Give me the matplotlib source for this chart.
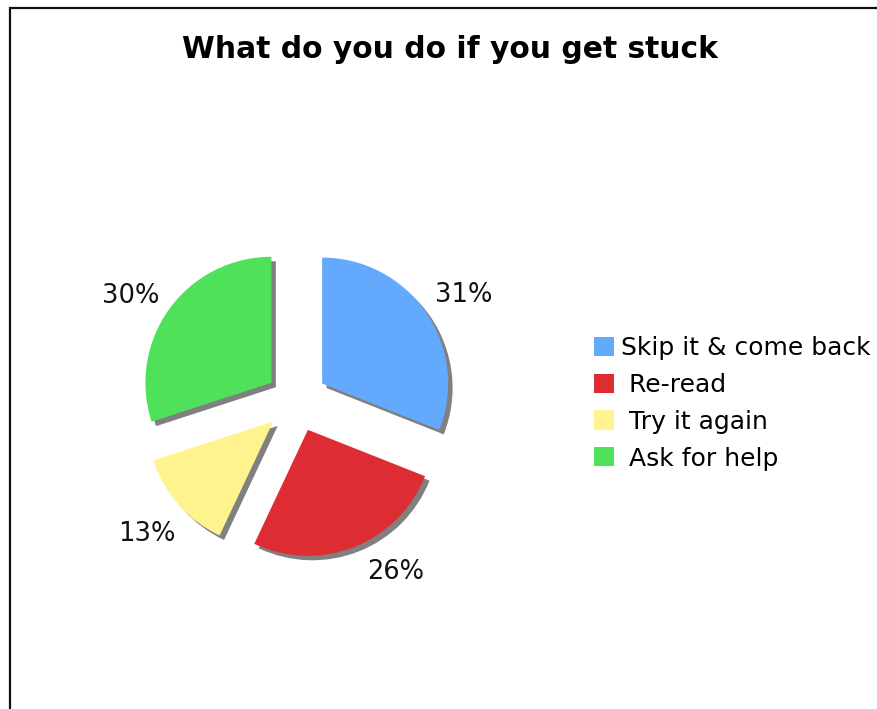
import numpy as np
import matplotlib
matplotlib.use('Agg')
import matplotlib.pyplot as plt
import matplotlib.patches as mpatches
import matplotlib.patheffects as pe

# survey answers
labels = ['Skip it & come back', ' Re-read', ' Try it again', ' Ask for help']
sizes = [31, 26, 13, 30]
colors = ['#63a9fd', '#dd2c32', '#fef38c', '#4fe15a']
# where the percent labels sit (angle in degrees, distance in radii)
label_angle = [32.5, -60.0, -138.3, 147.6]
label_dist = [1.57, 1.57, 1.59, 1.56]

fig = plt.figure(figsize=(8.77, 7.09), dpi=100)
fig.patch.set_facecolor('white')

# frame round the chart (only left and top edges visible)
fig.patches.append(mpatches.Rectangle((10 / 877, -0.1), 1.2, 1 - 8 / 709 + 0.1,
                                      transform=fig.transFigure, fill=False,
                                      edgecolor='#111111', linewidth=1.6))

fig.text(450 / 877, 1 - 49 / 709, 'What do you do if you get stuck',
         ha='center', va='center', fontsize=21.4, fontweight='bold')

ax = fig.add_axes([96.5 / 877, 108 / 709, 400 / 877, 400 / 709])
shadow = [pe.SimplePatchShadow(offset=(3.2, -3.2), shadow_rgbFace='#808080', alpha=1.0),
          pe.Normal()]
wedges, texts, autotexts = ax.pie(sizes, colors=colors, startangle=90, counterclock=False,
                                  explode=[0.246] * len(sizes), radius=1,
                                  autopct='%.0f%%', pctdistance=1.33,
                                  wedgeprops={'linewidth': 0, 'path_effects': shadow},
                                  textprops={'fontsize': 18.5, 'color': '#111111'})
for t, a, d in zip(autotexts, label_angle, label_dist):
    t.set_position((d * np.cos(np.radians(a)), d * np.sin(np.radians(a))))

lim = 200 / 126
ax.set_xlim(-lim, lim)
ax.set_ylim(-lim, lim)
ax.axis('off')

handles = [mpatches.Patch(facecolor=c, edgecolor='none') for c in colors]
fig.legend(handles, labels, loc='upper left', bbox_to_anchor=(594 / 877, 1 - 336 / 709),
           frameon=False, fontsize=18, handlelength=0.8, handleheight=0.8,
           handletextpad=0.28, labelspacing=0.515, borderpad=0, borderaxespad=0)

fig.savefig('out.png', dpi=100)
